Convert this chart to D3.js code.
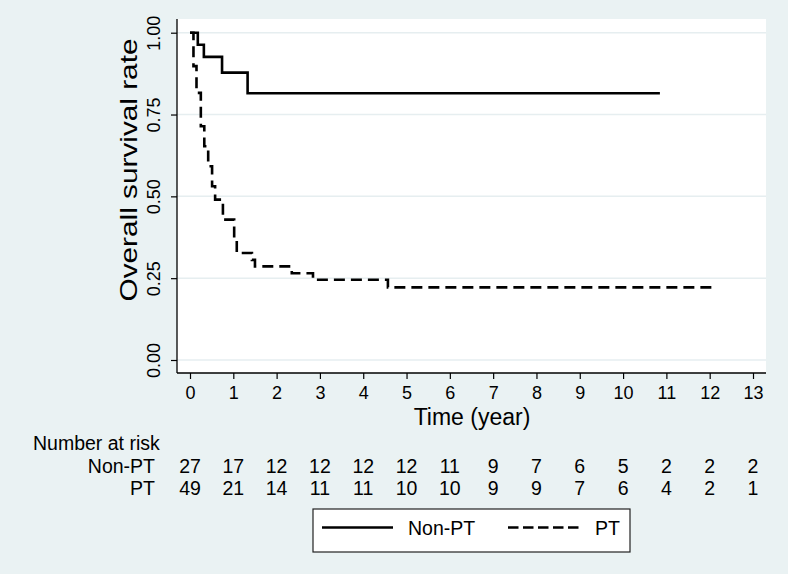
<!DOCTYPE html>
<html>
<head>
<meta charset="utf-8">
<script src="https://cdn.jsdelivr.net/npm/d3@7"></script>
<style>
  html, body { margin: 0; padding: 0; background: #eaf2f3; }
  svg { display: block; }
  text { font-family: "Liberation Sans", Arial, Helvetica, sans-serif; fill: #000; }
</style>
</head>
<body>
<script>
// ---------- data ----------
const timeTicks = [0, 1, 2, 3, 4, 5, 6, 7, 8, 9, 10, 11, 12, 13];
const survTicks = [0, 0.25, 0.5, 0.75, 1];
const survTickLabels = ["0.00", "0.25", "0.50", "0.75", "1.00"];

const groups = ["Non-PT", "PT"];

const nonPTTimes = [0, 0.18, 0.32, 0.74, 1.33, 10.85];
const nonPTSurv  = [1, 0.963, 0.926, 0.878, 0.815, 0.815];

const ptTimes = [0, 0.08, 0.15, 0.25, 0.33, 0.42, 0.51, 0.58, 0.76, 1.02, 1.08, 1.43, 1.50, 2.35, 2.84, 4.57, 12.17];
const ptSurv  = [1, 0.898, 0.816, 0.714, 0.653, 0.592, 0.531, 0.49, 0.429, 0.367, 0.327, 0.306, 0.286, 0.265, 0.245, 0.222, 0.222];

const riskNonPT = [27, 17, 12, 12, 12, 12, 11, 9, 7, 6, 5, 2, 2, 2];
const riskPT    = [49, 21, 14, 11, 11, 10, 10, 9, 9, 7, 6, 4, 2, 1];

// ---------- layout ----------
const W = 788, H = 574;
const plot = { left: 177, right: 766, top: 19, bottom: 373 };

const svg = d3.select("body").append("svg").attr("width", W).attr("height", H);
svg.append("rect").attr("width", W).attr("height", H).attr("fill", "#eaf2f3");

svg.append("rect")
  .attr("x", plot.left).attr("y", plot.top)
  .attr("width", plot.right - plot.left).attr("height", plot.bottom - plot.top)
  .attr("fill", "#fff");

const x = d3.scaleLinear().domain([0, 13]).range([190, 753]);
const y = d3.scaleLinear().domain([0, 1]).range([360, 32.7]);

// grid
svg.append("g").selectAll("line").data(survTicks).join("line")
  .attr("x1", plot.left).attr("x2", plot.right)
  .attr("y1", d => y(d)).attr("y2", d => y(d))
  .attr("stroke", "#e6eef0").attr("stroke-width", 1.5);

// x axis
const xAxis = d3.axisBottom(x).tickValues(timeTicks).tickSize(6).tickPadding(7).tickFormat(d3.format("d"));
const gx = svg.append("g").attr("transform", `translate(0,${plot.bottom})`).call(xAxis);
gx.select(".domain").remove();
gx.selectAll(".tick line").attr("stroke", "#000").attr("stroke-width", 1.2);
gx.selectAll(".tick text").attr("font-size", 18).attr("font-family", "Liberation Sans, Arial, sans-serif").attr("fill", "#000");
svg.append("line").attr("x1", plot.left).attr("x2", plot.right)
  .attr("y1", plot.bottom).attr("y2", plot.bottom).attr("stroke", "#000").attr("stroke-width", 1.3);

// y axis
const yAxis = d3.axisLeft(y).tickValues(survTicks).tickSize(6).tickFormat((d, i) => survTickLabels[i]);
const gy = svg.append("g").attr("transform", `translate(${plot.left},0)`).call(yAxis);
gy.select(".domain").remove();
gy.selectAll(".tick line").attr("stroke", "#000").attr("stroke-width", 1.2);
gy.selectAll(".tick text")
  .attr("font-size", 18).attr("font-family", "Liberation Sans, Arial, sans-serif").attr("fill", "#000")
  .attr("x", null).attr("dy", null)
  .attr("text-anchor", "middle")
  .attr("transform", "translate(-17,0) rotate(-90)");
svg.append("line").attr("x1", plot.left).attr("x2", plot.left)
  .attr("y1", plot.top).attr("y2", plot.bottom).attr("stroke", "#000").attr("stroke-width", 1.3);

// axis titles
svg.append("text").attr("x", 472).attr("y", 425).attr("text-anchor", "middle")
  .attr("font-size", 23).text("Time (year)");
svg.append("text").attr("transform", "translate(137,170) rotate(-90)").attr("text-anchor", "middle")
  .attr("font-size", 24).attr("textLength", 263).attr("lengthAdjust", "spacingAndGlyphs")
  .text("Overall survival rate");

// curves
const line = d3.line().x(d => x(d[0])).y(d => y(d[1])).curve(d3.curveStepAfter);
const nonPTData = nonPTTimes.map((t, i) => [t, nonPTSurv[i]]);
const ptData = ptTimes.map((t, i) => [t, ptSurv[i]]);

svg.append("path").datum(nonPTData).attr("d", line)
  .attr("fill", "none").attr("stroke", "#000").attr("stroke-width", 2.6);
svg.append("path").datum(ptData).attr("d", line)
  .attr("fill", "none").attr("stroke", "#000").attr("stroke-width", 2.6)
  .attr("stroke-dasharray", "11,6");

// risk table
svg.append("text").attr("x", 33).attr("y", 450).attr("font-size", 19.5).text("Number at risk");
const rows = [riskNonPT, riskPT];
const rowY = [473, 495];
rows.forEach((r, i) => {
  svg.append("text").attr("x", 155).attr("y", rowY[i]).attr("text-anchor", "end")
    .attr("font-size", 19.5).text(groups[i]);
  svg.append("g").selectAll("text").data(r).join("text")
    .attr("x", (d, j) => x(timeTicks[j])).attr("y", rowY[i])
    .attr("text-anchor", "middle").attr("font-size", 19.5).text(d => d);
});

// legend
const lg = svg.append("g");
lg.append("rect").attr("x", 313).attr("y", 509).attr("width", 317).attr("height", 43)
  .attr("fill", "#fff").attr("stroke", "#222").attr("stroke-width", 1.2);
lg.append("line").attr("x1", 322).attr("x2", 393).attr("y1", 527.5).attr("y2", 527.5)
  .attr("stroke", "#000").attr("stroke-width", 2.6);
lg.append("text").attr("x", 408).attr("y", 535).attr("font-size", 19.5).text(groups[0]);
lg.append("line").attr("x1", 508).attr("x2", 579).attr("y1", 527.5).attr("y2", 527.5)
  .attr("stroke", "#000").attr("stroke-width", 2.6).attr("stroke-dasharray", "10.5,4.5");
lg.append("text").attr("x", 595).attr("y", 535).attr("font-size", 19.5).text(groups[1]);
</script>
</body>
</html>
